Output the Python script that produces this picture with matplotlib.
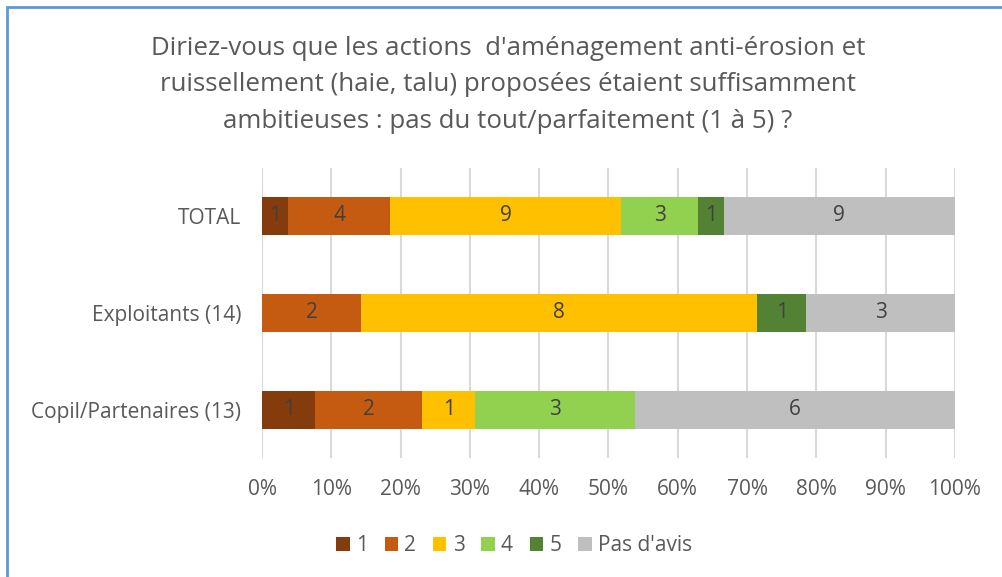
import numpy as np
import matplotlib.pyplot as plt
from matplotlib.patches import Rectangle

plt.rcParams['font.family'] = ['Open Sans', 'DejaVu Sans']

categories = ['TOTAL', 'Exploitants (14)', 'Copil/Partenaires (13)']
series = ['1', '2', '3', '4', '5', "Pas d'avis"]
# counts per series, in category order (TOTAL, Exploitants, Copil)
counts = [
    [1, 0, 1],   # 1
    [4, 2, 2],   # 2
    [9, 8, 1],   # 3
    [3, 0, 3],   # 4
    [1, 1, 0],   # 5
    [9, 3, 6],   # Pas d'avis
]
colors = ['#843C0C', '#C55A11', '#FFC000', '#92D050', '#548235', '#BFBFBF']
title = ("Diriez-vous que les actions  d'aménagement anti-érosion et\n"
         "ruissellement (haie, talu) proposées étaient suffisamment\n"
         "ambitieuses : pas du tout/parfaitement (1 à 5) ?")

counts = np.array(counts, dtype=float)
totals = counts.sum(axis=0)
shares = counts / totals

fig = plt.figure(figsize=(10.02, 5.77), dpi=100)
ax = fig.add_axes([0.2615, 0.2054, 0.6915, 0.5043])

y = np.arange(len(categories))[::-1]
left = np.zeros(len(categories))
for i, s in enumerate(series):
    bars = ax.barh(y, shares[i], left=left, height=0.4, color=colors[i],
                   label=s, zorder=3)
    for j, b in enumerate(bars):
        if counts[i, j] > 0:
            ax.text(left[j] + shares[i, j] / 2, y[j], '%d' % counts[i, j],
                    ha='center', va='center', fontsize=15, color='#404040',
                    zorder=4)
    left += shares[i]

ax.set_xlim(0, 1)
ax.set_ylim(-0.5, 2.5)
ax.set_xticks(np.arange(0, 1.01, 0.1))
ax.set_xticklabels(['%d%%' % round(v * 100) for v in np.arange(0, 1.01, 0.1)])
ax.set_yticks(y)
ax.set_yticklabels(categories)
ax.tick_params(length=0, labelsize=15, colors='#595959')
ax.tick_params(axis='x', pad=15)
ax.tick_params(axis='y', pad=15)
ax.grid(axis='x', color='#D9D9D9', linewidth=1.5, zorder=0)
for sp in ax.spines.values():
    sp.set_visible(False)

fig.text(0.507, 0.853, title, ha='center', va='center', fontsize=18.6,
         color='#595959', linespacing=1.62)

leg = fig.legend(loc='center', bbox_to_anchor=(0.513, 0.054), ncol=6,
                 frameon=False, fontsize=15, handlelength=0.65,
                 handleheight=0.65, handletextpad=0.3, columnspacing=0.8)
for t in leg.get_texts():
    t.set_color('#595959')

# chart border (left and top visible)
fig.add_artist(Rectangle((0.0065, -0.01), 1.1, 0.9975, fill=False,
                         edgecolor='#5B9BD5', linewidth=2,
                         transform=fig.transFigure))

fig.savefig('out.png', dpi=100)
